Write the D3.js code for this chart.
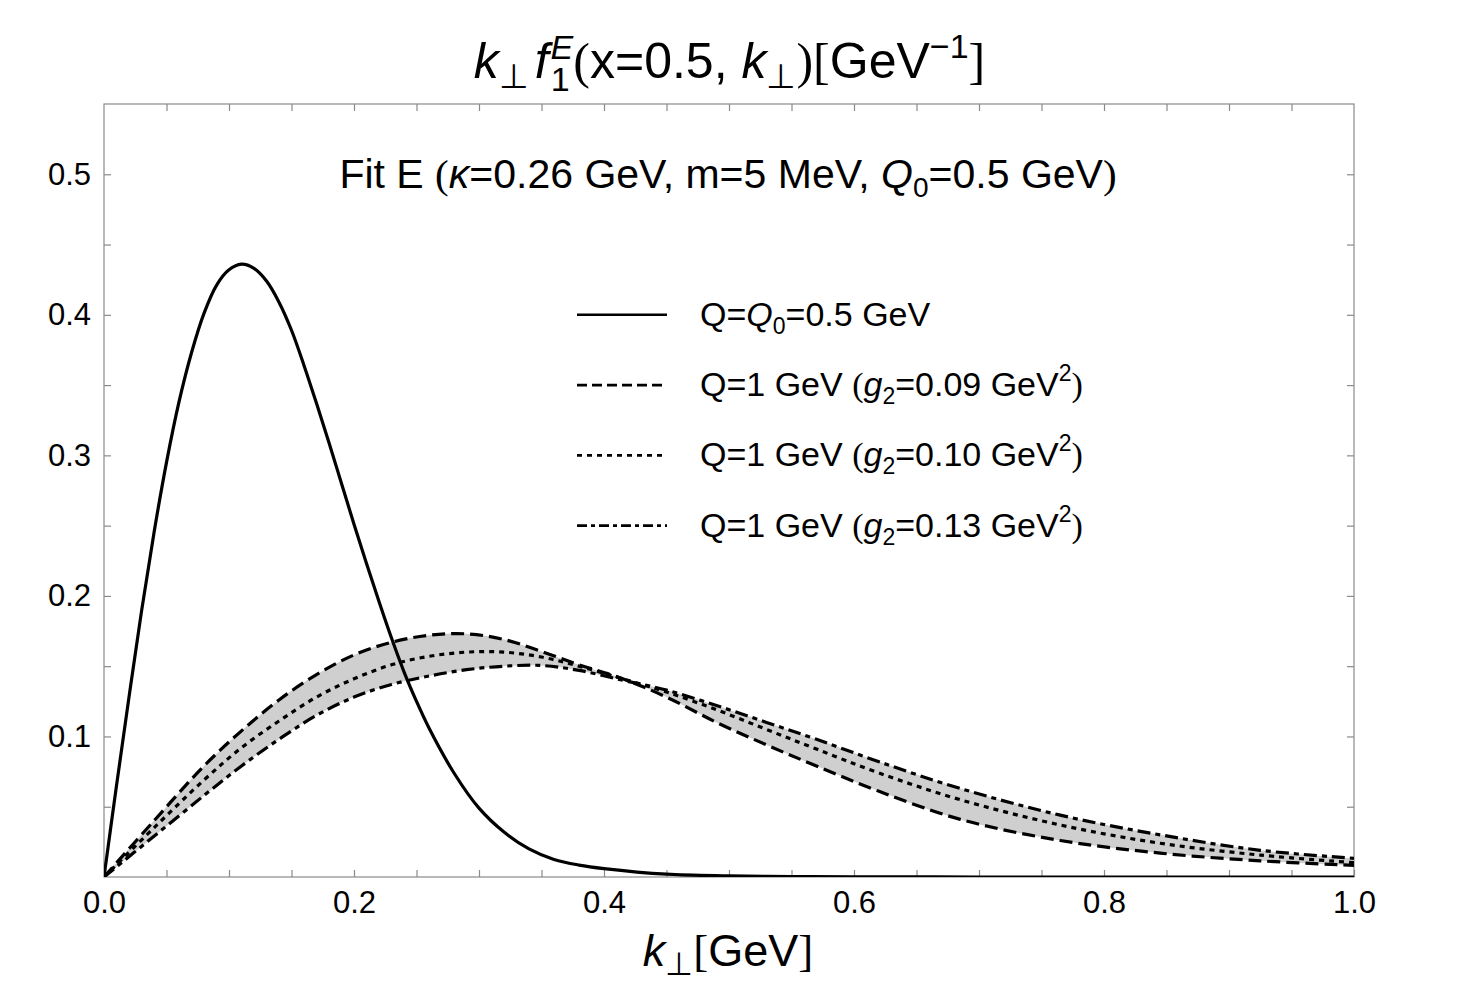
<!DOCTYPE html>
<html>
<head>
<meta charset="utf-8">
<script src="https://cdn.jsdelivr.net/npm/d3@7"></script>
<style>
  body { margin: 0; background: #fff; }
  text { font-family: "Liberation Sans", Arial, Helvetica, sans-serif; fill: #000; }
  .paren { font-family: "Liberation Serif", "Times New Roman", serif; }
</style>
</head>
<body>
<div id="chart"></div>
<script>
// solid curve: Q = Q0 = 0.5 GeV
const kSolid = [0, 0.01, 0.02, 0.03, 0.04, 0.05, 0.06, 0.07, 0.08, 0.09, 0.10, 0.11, 0.12, 0.13, 0.14,
  0.15, 0.16, 0.17, 0.18, 0.19, 0.20, 0.21, 0.22, 0.23, 0.24, 0.25, 0.26, 0.28, 0.30, 0.32, 0.34,
  0.36, 0.38, 0.40, 0.45, 0.50, 0.55, 0.60, 0.70, 0.80, 0.90, 1.0];
const fSolid = [0, 0.065, 0.128, 0.189, 0.245, 0.295, 0.338, 0.373, 0.401, 0.421, 0.432, 0.436, 0.433, 0.424, 0.409,
  0.389, 0.364, 0.337, 0.309, 0.280, 0.251, 0.223, 0.196, 0.170, 0.146, 0.125, 0.106, 0.074, 0.049, 0.032, 0.020,
  0.0125, 0.0085, 0.006, 0.002, 0.0008, 0.0003, 0.0001, 0, 0, 0, 0];

// Q = 1 GeV curves, shared k grid
const kBand = [0, 0.04, 0.08, 0.11, 0.14, 0.17, 0.20, 0.23, 0.26, 0.29, 0.32, 0.35, 0.38, 0.415,
  0.45, 0.49, 0.53, 0.57, 0.62, 0.685, 0.765, 0.845, 0.925, 1.0];
const fG009 = [0, 0.040, 0.079, 0.104, 0.126, 0.144, 0.158, 0.167, 0.172, 0.173, 0.169, 0.1605, 0.151, 0.141,
  0.128, 0.110, 0.094, 0.079, 0.061, 0.041, 0.026, 0.017, 0.0115, 0.0083];
const fG010 = [0, 0.035, 0.069, 0.092, 0.111, 0.128, 0.141, 0.151, 0.157, 0.160, 0.160, 0.1565, 0.150, 0.141,
  0.1316, 0.119, 0.105, 0.091, 0.074, 0.055, 0.037, 0.024, 0.0156, 0.0102];
const fG013 = [0, 0.029, 0.058, 0.079, 0.098, 0.115, 0.128, 0.137, 0.143, 0.1475, 0.150, 0.1505, 0.147, 0.140,
  0.133, 0.122, 0.110, 0.098, 0.082, 0.063, 0.044, 0.030, 0.019, 0.0133];

const xTicks = d3.range(0, 21).map(i => i * 0.05);
const xLabels = [0, 0.2, 0.4, 0.6, 0.8, 1.0];
const yTicks = d3.range(1, 11).map(i => i * 0.05);
const yLabels = [0.1, 0.2, 0.3, 0.4, 0.5];

const legendItems = [
  {dash: null, label: "solid"},
  {dash: "10,5", label: "0.09"},
  {dash: "5,5", label: "0.10"},
  {dash: "10,4,4,4", label: "0.13"}
];

const width = 1459, height = 1003;
const margin = {top: 104, right: 105, bottom: 126, left: 104};
const innerWidth = width - margin.left - margin.right;
const innerHeight = height - margin.top - margin.bottom;

const svg = d3.select("#chart").append("svg")
    .attr("width", width)
    .attr("height", height);

const x = d3.scaleLinear().domain([0, 1]).range([margin.left, margin.left + innerWidth]);
const y = d3.scaleLinear().domain([0, 0.55]).range([margin.top + innerHeight, margin.top]);

svg.append("clipPath").attr("id", "plotclip")
  .append("rect")
    .attr("x", margin.left).attr("y", margin.top - 2)
    .attr("width", innerWidth).attr("height", innerHeight + 2);

// frame
svg.append("rect")
    .attr("x", margin.left).attr("y", margin.top)
    .attr("width", innerWidth).attr("height", innerHeight)
    .attr("fill", "none").attr("stroke", "#8a8a8a").attr("stroke-width", 1.2);

const fmt = d3.format(".1f");
const isLabel = (v, list) => list.some(l => Math.abs(l - v) < 1e-6);

// axes with inward ticks
const axisStyle = g => {
  g.select(".domain").remove();
  g.selectAll(".tick line").attr("stroke", "#8a8a8a").attr("stroke-width", 1.2);
  g.selectAll(".tick text").style("font-size", "31px").attr("fill", "#000");
  g.selectAll(".tick text").filter(function() { return this.textContent === ""; }).remove();
};

svg.append("g")
    .attr("transform", `translate(0, ${margin.top + innerHeight})`)
    .call(d3.axisBottom(x).tickValues(xTicks).tickSizeInner(-7).tickSizeOuter(0).tickPadding(14)
      .tickFormat(d => isLabel(d, xLabels) ? fmt(d) : ""))
    .call(axisStyle);

svg.append("g")
    .attr("transform", `translate(0, ${margin.top})`)
    .call(d3.axisTop(x).tickValues(xTicks.slice(1, -1)).tickSizeInner(-7).tickSizeOuter(0).tickFormat(""))
    .call(axisStyle);

svg.append("g")
    .attr("transform", `translate(${margin.left}, 0)`)
    .call(d3.axisLeft(y).tickValues(yTicks).tickSizeInner(-7).tickSizeOuter(0).tickPadding(13)
      .tickFormat(d => isLabel(d, yLabels) ? fmt(d) : ""))
    .call(axisStyle);

svg.append("g")
    .attr("transform", `translate(${margin.left + innerWidth}, 0)`)
    .call(d3.axisRight(y).tickValues(yTicks).tickSizeInner(-7).tickSizeOuter(0).tickFormat(""))
    .call(axisStyle);

// data
const band = kBand.map((k, i) => ({k, a: fG009[i], b: fG010[i], c: fG013[i]}));
const solid = kSolid.map((k, i) => ({k, v: fSolid[i]}));

const plot = svg.append("g").attr("clip-path", "url(#plotclip)");

const smooth = d3.curveCatmullRom.alpha(0.5);

const area = d3.area()
    .x(d => x(d.k))
    .y0(d => y(d.a))
    .y1(d => y(d.c))
    .curve(smooth);

plot.append("path")
    .datum(band)
    .attr("d", area)
    .attr("fill", "#cfcfcf");

const line = key => d3.line().x(d => x(d.k)).y(d => y(d[key])).curve(smooth);

[["a", "13,6"], ["b", "5,5"], ["c", "13,5,5,5"]].forEach(([key, dash]) => {
  plot.append("path")
      .datum(band)
      .attr("d", line(key))
      .attr("fill", "none")
      .attr("stroke", "#000")
      .attr("stroke-width", 3.2)
      .attr("stroke-dasharray", dash);
});

plot.append("path")
    .datum(solid)
    .attr("d", line("v"))
    .attr("fill", "none")
    .attr("stroke", "#000")
    .attr("stroke-width", 3.2);

// title
const title = svg.append("text")
    .attr("x", width / 2).attr("y", 78)
    .attr("text-anchor", "middle")
    .style("font-size", "50px");
title.append("tspan").style("font-style", "italic").text("k");
title.append("tspan").attr("dy", 10).style("font-size", "34px").text("⊥");
title.append("tspan").attr("dy", -10).attr("dx", 6).style("font-style", "italic").text("f");
title.append("tspan").attr("dy", 13).attr("dx", 2).style("font-size", "34px").text("1");
title.append("tspan").attr("dy", -32).attr("dx", -19).style("font-size", "34px").style("font-style", "italic").text("E");
title.append("tspan").attr("dy", 19).attr("class", "paren").text("(");
title.append("tspan").text("x=0.5, ");
title.append("tspan").style("font-style", "italic").text("k");
title.append("tspan").attr("dy", 10).style("font-size", "34px").text("⊥");
title.append("tspan").attr("dy", -10).attr("class", "paren").text(")[");
title.append("tspan").text("GeV");
title.append("tspan").attr("dy", -20).style("font-size", "34px").text("−1");
title.append("tspan").attr("dy", 20).attr("class", "paren").text("]");

// subtitle
const sub = svg.append("text")
    .attr("x", 728).attr("y", 188)
    .attr("text-anchor", "middle")
    .style("font-size", "41px");
sub.append("tspan").text("Fit E ");
sub.append("tspan").attr("class", "paren").text("(");
sub.append("tspan").style("font-style", "italic").text("κ");
sub.append("tspan").text("=0.26 GeV, m=5 MeV, ");
sub.append("tspan").style("font-style", "italic").text("Q");
sub.append("tspan").attr("dy", 9).style("font-size", "28px").text("0");
sub.append("tspan").attr("dy", -9).text("=0.5 GeV");
sub.append("tspan").attr("class", "paren").text(")");

// legend
const legendY = [0.4, 0.35, 0.3, 0.25];
const leg = svg.append("g");
legendItems.forEach((item, i) => {
  const yy = y(legendY[i]);
  leg.append("line")
      .attr("x1", 577).attr("x2", 667)
      .attr("y1", yy).attr("y2", yy)
      .attr("stroke", "#000").attr("stroke-width", 2.6)
      .attr("stroke-dasharray", item.dash);
  const t = leg.append("text")
      .attr("x", 700).attr("y", yy + 11)
      .style("font-size", "34px");
  if (i === 0) {
    t.append("tspan").text("Q=");
    t.append("tspan").style("font-style", "italic").text("Q");
    t.append("tspan").attr("dy", 8).style("font-size", "23px").text("0");
    t.append("tspan").attr("dy", -8).text("=0.5 GeV");
  } else {
    t.append("tspan").text("Q=1 GeV ");
    t.append("tspan").attr("class", "paren").text("(");
    t.append("tspan").style("font-style", "italic").text("g");
    t.append("tspan").attr("dy", 8).style("font-size", "23px").text("2");
    t.append("tspan").attr("dy", -8).text("=" + item.label + " GeV");
    t.append("tspan").attr("dy", -15).style("font-size", "23px").text("2");
    t.append("tspan").attr("dy", 15).attr("class", "paren").text(")");
  }
});

// x axis label
const xl = svg.append("text")
    .attr("x", 728).attr("y", 966)
    .attr("text-anchor", "middle")
    .style("font-size", "45px");
xl.append("tspan").style("font-style", "italic").text("k");
xl.append("tspan").attr("dy", 9).style("font-size", "32px").text("⊥");
xl.append("tspan").attr("dy", -9).attr("class", "paren").text("[");
xl.append("tspan").text("GeV");
xl.append("tspan").attr("class", "paren").text("]");
</script>
</body>
</html>
